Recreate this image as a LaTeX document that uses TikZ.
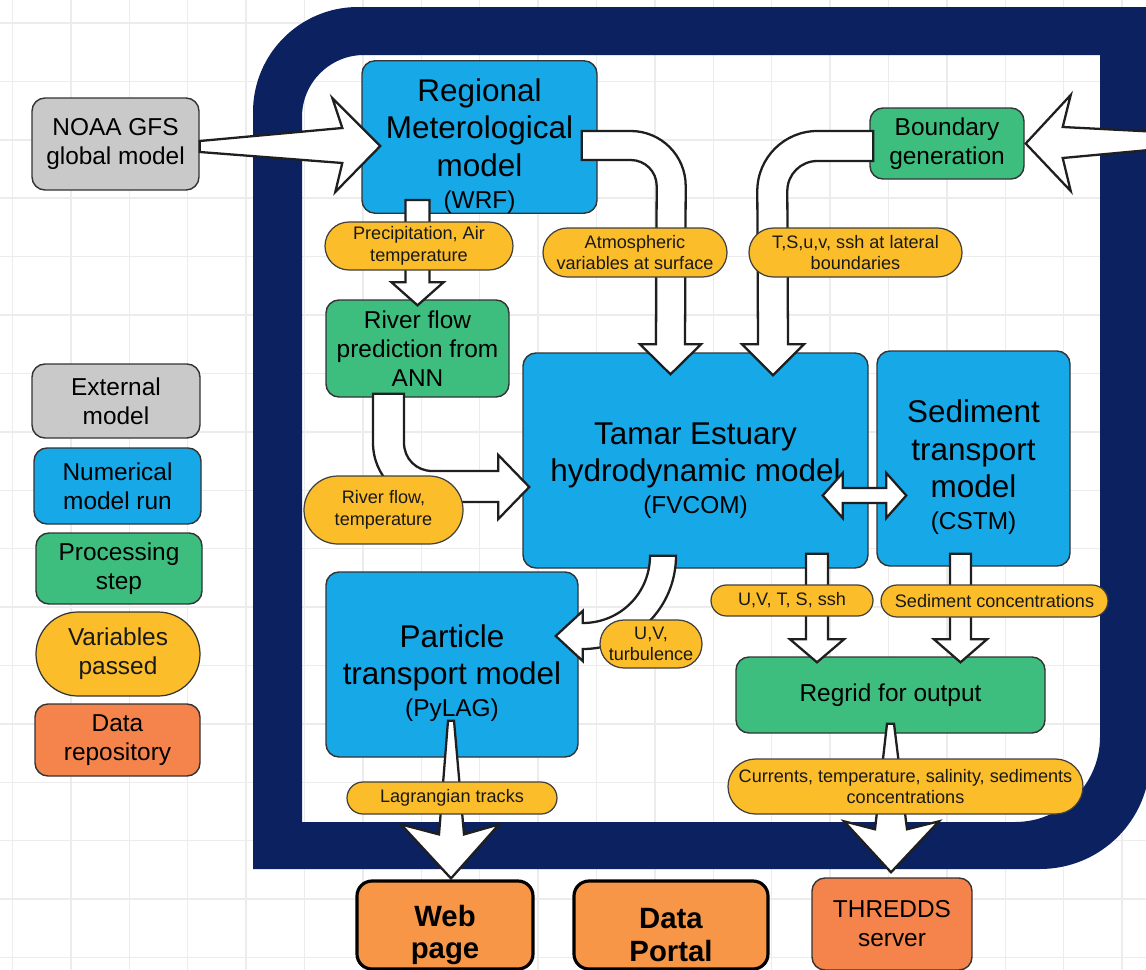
\documentclass[tikz,border=0pt]{standalone}
\usepackage{fontspec}
\setmainfont{Liberation Sans}
\usetikzlibrary{calc,shapes.misc}
\definecolor{navy}{HTML}{0B2160}
\definecolor{mblue}{HTML}{17A8E8}
\definecolor{mgreen}{HTML}{3DBE7E}
\definecolor{myel}{HTML}{FBBD2A}
\definecolor{mgray}{HTML}{C9C9C9}
\definecolor{mcoral}{HTML}{F5844C}
\definecolor{morange}{HTML}{F79646}
\definecolor{gridc}{HTML}{ECECEC}
\newcommand{\szTitle}{\fontsize{17.9pt}{21.3pt}\selectfont}
\newcommand{\szBox}{\fontsize{13.9pt}{16.5pt}\selectfont}
\newcommand{\szLab}{\fontsize{10.3pt}{12.2pt}\selectfont}
\newcommand{\szWeb}{\fontsize{16.7pt}{18.7pt}\selectfont\bfseries}
\newcommand{\topstrut}[1]{\rule{0pt}{#1}}
\begin{document}
\begin{tikzpicture}[x=0.02cm,y=-0.02cm,
  wh/.style 2 args={minimum width=#1*0.02cm, minimum height=#2*0.02cm},
  box/.style={draw=black!80, line width=0.8pt, rounded corners=0.26cm, inner sep=0pt, align=center, font=\szBox, text=black},
  tbox/.style={box, fill=mblue, font=\szTitle},
  lab/.style={rounded rectangle, draw=black!75, line width=0.7pt, fill=myel, inner sep=0pt, align=center, font=\szLab, text=black!90},
  outbox/.style={draw=black, line width=1.8pt, rounded corners=0.3cm, fill=morange, inner sep=0pt},
  barrow/.style={draw=black!88, fill=white, line width=1.3pt, line join=miter},
  gridl/.style={draw=gridc, line width=0.8pt}]
\useasboundingbox (0,0) rectangle (1146,970);
\clip (0,0) rectangle (1146,970);
\fill[white] (0,0) rectangle (1146,970);
% background grid
\foreach \i in {0,...,19} \draw[gridl] ({12.5+58.4*\i},0) -- ({12.5+58.4*\i},970);
\foreach \j in {0,...,16} \draw[gridl] (0,{23+58.4*\j}) -- (1146,{23+58.4*\j});
% navy frame
\fill[navy, even odd rule]
  (253,869) -- (253,112) .. controls (253,54) and (300,7) .. (358,7) -- (1150,7) -- (1150,759)
  .. controls (1150,819.8) and (1100.8,869) .. (1040,869) -- cycle
  (302,822) -- (302,117) .. controls (302,82.8) and (329.8,55) .. (364,55) -- (1100,55) -- (1100,737)
  .. controls (1100,783.9) and (1061.9,822) .. (1015,822) -- cycle;
% legend
\node[box, fill=mgray, wh={167}{92}] (noaa) at (115.5,144) {NOAA GFS\\global model};
\node[box, fill=mgray, wh={168}{74}] (ext) at (116,401) {External\\model};
\node[box, fill=mblue, wh={167}{76}] (num) at (117.5,486) {Numerical\\model run};
\node[box, fill=mgreen, wh={166}{71}] (proc) at (119,568.5) {Processing\\step};
\node[lab, wh={164}{84}, font=\szBox, draw=black!80] (vars) at (118,654) {Variables\\passed};
\node[box, fill=mcoral, wh={165}{72}] (repo) at (117.5,740) {Data\\repository};
% main boxes
\node[tbox, wh={235}{150}] (wrf) at (479.5,137) {\topstrut{23pt}Regional\\Meterological\\model\\[-3pt]\szBox (WRF)};
\node[box, fill=mgreen, wh={154}{71}] (bnd) at (947,143.5) {Boundary\\generation};
\node[box, fill=mgreen, wh={183}{97}] (river) at (417.5,348.5) {River flow\\prediction from\\ANN};
\node[tbox, wh={345}{215}] (tamar) at (695.5,460.5) {\topstrut{24pt}Tamar Estuary\\hydrodynamic model\\[-3pt]\szBox (FVCOM)};
\node[tbox, wh={193}{215}] (sed) at (973.5,458.5) {\topstrut{23pt}Sediment\\transport\\model\\[-3pt]\szBox (CSTM)};
\node[tbox, wh={252}{185}] (particle) at (452,664.5) {\topstrut{23pt}Particle\\transport model\\[-3pt]\szBox (PyLAG)};
\node[box, fill=mgreen, wh={309}{76}] (regrid) at (890.5,695) {Regrid for output};
\node[outbox, wh={176}{88}] (web) at (445,925) {};
\node[font=\szWeb, align=center, inner sep=0pt] (webt) at (445,935) {Web\\page};
\node[outbox, wh={194}{88}] (portal) at (671,925) {};
\node[font=\szWeb, align=center, inner sep=0pt] (portalt) at (671,935) {Data\\Portal};
\node[box, fill=mcoral, wh={160}{92}] (thredds) at (892,924) {THREDDS\\server};
% arrows
\coordinate (rin) at (1160,141);
\coordinate (a3) at (wrf.south -| river.north);
\draw[barrow] ($(noaa.east)+(0,-3)$) -- ($(wrf.west)+(-19,-9)$) -- ($(wrf.west)+(-29,-39)$) -- ($(wrf.west)+(19,9)$) -- ($(wrf.west)+(-26,55)$) -- ($(wrf.west)+(-19,26)$) -- ($(noaa.east)+(0,8)$) -- cycle;
\draw[barrow] ($(rin)+(0,-9)$) -- ($(bnd.east)+(38,-16.5)$) -- ($(bnd.east)+(46,-48.5)$) -- ($(bnd.east)+(1,0)$) -- ($(bnd.east)+(46,47.5)$) -- ($(bnd.east)+(38,14.5)$) -- ($(rin)+(0,8)$) -- cycle;
\draw[barrow] ($(a3)+(-12,-14)$) -- ($(a3)+(12,-14)$) -- ($(river.north)+(12,-17)$) -- ($(river.north)+(26,-17)$) -- ($(river.north)+(0,6)$) -- ($(river.north)+(-26,-17)$) -- ($(river.north)+(-12,-17)$) -- cycle;
\draw[barrow] ($(river.south)+(-44.5,-4)$) -- ($(river.south)+(-44.5,45)$) .. controls ($(river.south)+(-44.5,78.1)$) and ($(tamar.west)+(-123.1,41.5)$) .. ($(tamar.west)+(-90,41.5)$) -- ($(tamar.west)+(-24,41.5)$) -- ($(tamar.west)+(-24,58.5)$) -- ($(tamar.west)+(7,26.5)$) -- ($(tamar.west)+(-24,-5.5)$) -- ($(tamar.west)+(-24,10.5)$) -- ($(tamar.west)+(-90,10.5)$) .. controls ($(tamar.west)+(-106,10.5)$) and ($(river.south)+(-13.5,61)$) .. ($(river.south)+(-13.5,45)$) -- ($(river.south)+(-13.5,-4)$) -- cycle;
\draw[barrow] ($(wrf.east)+(-16,-6)$) -- ($(wrf.east)+(33,-6)$) .. controls ($(wrf.east)+(63.4,-6)$) and ($(wrf.east)+(88,18.6)$) .. ($(wrf.east)+(88,49)$) -- ($(tamar.north)+(-10.5,-8)$) -- ($(tamar.north)+(5.5,-8)$) -- ($(tamar.north)+(-25,22)$) -- ($(tamar.north)+(-55.5,-8)$) -- ($(tamar.north)+(-39.5,-8)$) -- ($(wrf.east)+(59,49)$) .. controls ($(wrf.east)+(59,34.6)$) and ($(wrf.east)+(47.4,23)$) .. ($(wrf.east)+(33,23)$) -- ($(wrf.east)+(-16,23)$) -- cycle;
\draw[barrow] ($(bnd.west)+(4,-12.5)$) -- ($(bnd.west)+(-52,-12.5)$) .. controls ($(bnd.west)+(-85.1,-12.5)$) and ($(bnd.west)+(-112,14.4)$) .. ($(bnd.west)+(-112,47.5)$) -- ($(tamar.north)+(62.5,-8)$) -- ($(tamar.north)+(46.5,-8)$) -- ($(tamar.north)+(77.5,23)$) -- ($(tamar.north)+(108.5,-8)$) -- ($(tamar.north)+(92.5,-8)$) -- ($(bnd.west)+(-82,47.5)$) .. controls ($(bnd.west)+(-82,30.9)$) and ($(bnd.west)+(-68.6,17.5)$) .. ($(bnd.west)+(-52,17.5)$) -- ($(bnd.west)+(4,17.5)$) -- cycle;
\draw[barrow] ($(tamar.east)+(-46,35)$) -- ($(tamar.east)+(-26,12.5)$) -- ($(tamar.east)+(-26,27.5)$) -- ($(sed.west)+(10,29.5)$) -- ($(sed.west)+(10,14.5)$) -- ($(sed.west)+(30,37)$) -- ($(sed.west)+(10,59.5)$) -- ($(sed.west)+(10,44.5)$) -- ($(tamar.east)+(-26,42.5)$) -- ($(tamar.east)+(-26,57.5)$) -- cycle;
\draw[barrow] ($(tamar.south)+(-45.5,-13)$) -- ($(tamar.south)+(-19.5,-13)$) .. controls ($(tamar.south)+(-19.5,38.9)$) and ($(particle.east)+(55.9,-15.5)$) .. ($(particle.east)+(4,-15.5)$) -- ($(particle.east)+(4,-3.5)$) -- ($(particle.east)+(-23,-28.5)$) -- ($(particle.east)+(4,-53.5)$) -- ($(particle.east)+(4,-41.5)$) .. controls ($(particle.east)+(41.5,-41.5)$) and ($(tamar.south)+(-45.5,24.5)$) .. cycle;
\draw[barrow] ($(tamar.south)+(110.5,-15)$) -- ($(tamar.south)+(132.5,-15)$) -- ($(regrid.north)+(-62.5,-17)$) -- ($(regrid.north)+(-46.5,-17)$) -- ($(regrid.north)+(-73.5,6)$) -- ($(regrid.north)+(-100.5,-17)$) -- ($(regrid.north)+(-84.5,-17)$) -- cycle;
\draw[barrow] ($(sed.south)+(-23.5,-13)$) -- ($(sed.south)+(-2.5,-13)$) -- ($(regrid.north)+(80.5,-17)$) -- ($(regrid.north)+(96.5,-17)$) -- ($(regrid.north)+(70,6)$) -- ($(regrid.north)+(43.5,-17)$) -- ($(regrid.north)+(59.5,-17)$) -- cycle;
\draw[barrow] ($(regrid.south)+(-3.5,-10)$) -- ($(regrid.south)+(3.5,-10)$) -- ($(thredds.north)+(15,-48)$) -- ($(thredds.north)+(47,-56)$) -- ($(thredds.north)+(-1,-5)$) -- ($(thredds.north)+(-48,-56)$) -- ($(thredds.north)+(-17,-48)$) -- cycle;
\draw[barrow] ($(particle.south)+(-4,-37)$) -- ($(particle.south)+(2,-37)$) -- ($(web.north)+(19,-45)$) -- ($(web.north)+(54,-55)$) -- ($(web.north)+(6,-1)$) -- ($(web.north)+(-44,-55)$) -- ($(web.north)+(-6,-45)$) -- cycle;
% labels
\node[lab, wh={188}{48}] (lprec) at (419,246) {Precipitation, Air\\temperature};
\node[lab, wh={184}{49}] (latm) at (635,252.5) {Atmospheric\\variables at surface};
\node[lab, wh={213}{49}] (lts) at (855.5,252.5) {T,S,u,v, ssh at lateral\\boundaries};
\node[lab, wh={159}{68}] (lriver) at (383.5,510) {River flow,\\temperature};
\node[lab, wh={102}{48}] (luv) at (651,644) {U,V,\\turbulence};
\node[lab, wh={162}{31}] (luvts) at (792,600.5) {U,V, T, S, ssh};
\node[lab, wh={227}{32}] (lsed) at (994.5,601) {Sediment concentrations};
\node[lab, wh={355}{55}] (lcur) at (905.5,786.5) {Currents, temperature, salinity, sediments\\concentrations};
\node[lab, wh={210}{32}] (llag) at (452,798) {Lagrangian tracks};
\end{tikzpicture}
\end{document}
